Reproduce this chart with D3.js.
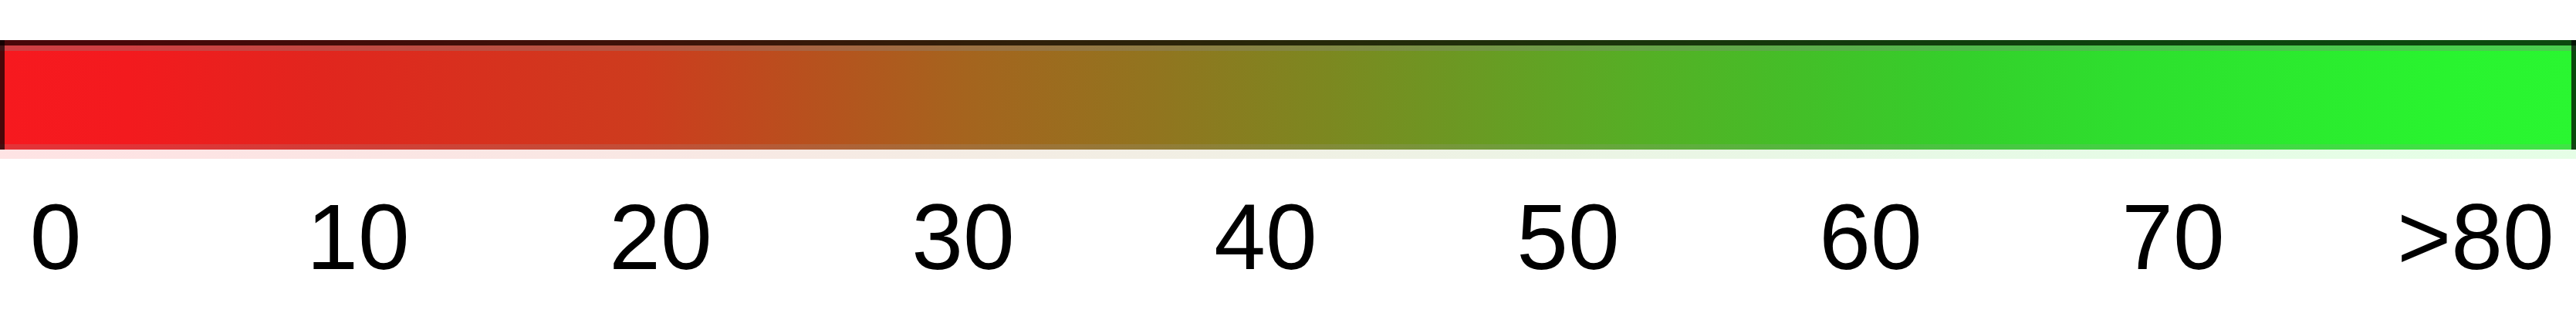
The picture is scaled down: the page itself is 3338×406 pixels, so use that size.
<!DOCTYPE html>
<html>
<head>
<meta charset="utf-8">
<script src="https://cdn.jsdelivr.net/npm/d3@7"></script>
<style>
  html, body { margin: 0; padding: 0; background: #fff; }
  svg { display: block; }
</style>
</head>
<body>
<div class="canvas"></div>
<script>
// Legend values
const tickValues = [0, 10, 20, 30, 40, 50, 60, 70, 80];
const tickLabels = ["0", "10", "20", "30", "40", "50", "60", "70", ">80"];

// Gradient colour stops (value -> colour)
const stopValues = [0, 4, 10, 20, 25, 30, 36, 41, 46, 51, 56, 61, 66, 76, 80];
const stopColours = ["#f7191f", "#f31a1e", "#e1261e", "#cd3c1e", "#b8501e", "#a5641e", "#91751f", "#7d8720", "#699b23", "#55af25", "#43bf28", "#34d02b", "#2edf2e", "#29f42f", "#2af631"];

const dims = { width: 3338, height: 406 };
const bar = { top: 52, bottom: 194 };

// Create SVG container
const svg = d3
  .select(".canvas")
  .append("svg")
  .attr("width", dims.width)
  .attr("height", dims.height);

// Scales: one for the bar, one for the labels underneath
const xBar = d3.scaleLinear().domain([0, 80]).range([0, dims.width]);
const xLabel = d3.scaleLinear().domain([0, 80]).range([72, 3208]);

// Gradient definition
const defs = svg.append("defs");
const grad = defs
  .append("linearGradient")
  .attr("id", "legendGrad")
  .attr("gradientUnits", "userSpaceOnUse")
  .attr("x1", xBar(0))
  .attr("x2", xBar(80))
  .attr("y1", 0)
  .attr("y2", 0);

grad
  .selectAll("stop")
  .data(stopValues)
  .enter()
  .append("stop")
  .attr("offset", (d) => xBar(d) / dims.width)
  .attr("stop-color", (d, i) => stopColours[i]);

const barW = xBar(80) - xBar(0);

// Main colour bar
svg
  .append("rect")
  .attr("x", xBar(0))
  .attr("y", bar.top)
  .attr("width", barW)
  .attr("height", bar.bottom - bar.top)
  .attr("fill", "url(#legendGrad)");

// Soft halo under the bar
svg
  .append("rect")
  .attr("x", xBar(0))
  .attr("y", bar.bottom)
  .attr("width", barW)
  .attr("height", 12)
  .attr("fill", "url(#legendGrad)")
  .attr("opacity", 0.12);

// Dark top edge
svg
  .append("rect")
  .attr("x", xBar(0))
  .attr("y", bar.top)
  .attr("width", barW)
  .attr("height", 7)
  .attr("fill", "#000")
  .attr("opacity", 0.7);

// Muted band under the top edge
svg
  .append("rect")
  .attr("x", xBar(0))
  .attr("y", bar.top + 7)
  .attr("width", barW)
  .attr("height", 7)
  .attr("fill", "#888")
  .attr("opacity", 0.35);

// Slightly lighter bottom edge
svg
  .append("rect")
  .attr("x", xBar(0))
  .attr("y", bar.bottom - 7)
  .attr("width", barW)
  .attr("height", 7)
  .attr("fill", "#999")
  .attr("opacity", 0.2);

// Dark left and right ends
svg
  .selectAll("rect.end")
  .data([0, 80])
  .enter()
  .append("rect")
  .attr("class", "end")
  .attr("x", (d) => (d === 0 ? xBar(d) : xBar(d) - 6))
  .attr("y", bar.top)
  .attr("width", 6)
  .attr("height", bar.bottom - bar.top)
  .attr("fill", "#000")
  .attr("opacity", 0.7);

// Tick labels
svg
  .append("g")
  .selectAll("text")
  .data(tickValues)
  .enter()
  .append("text")
  .attr("x", (d) => xLabel(d))
  .attr("y", 349)
  .attr("text-anchor", "middle")
  .attr("font-family", "'Liberation Sans', Arial, sans-serif")
  .attr("font-size", 120)
  .attr("fill", "#000")
  .text((d, i) => tickLabels[i]);
</script>
</body>
</html>
